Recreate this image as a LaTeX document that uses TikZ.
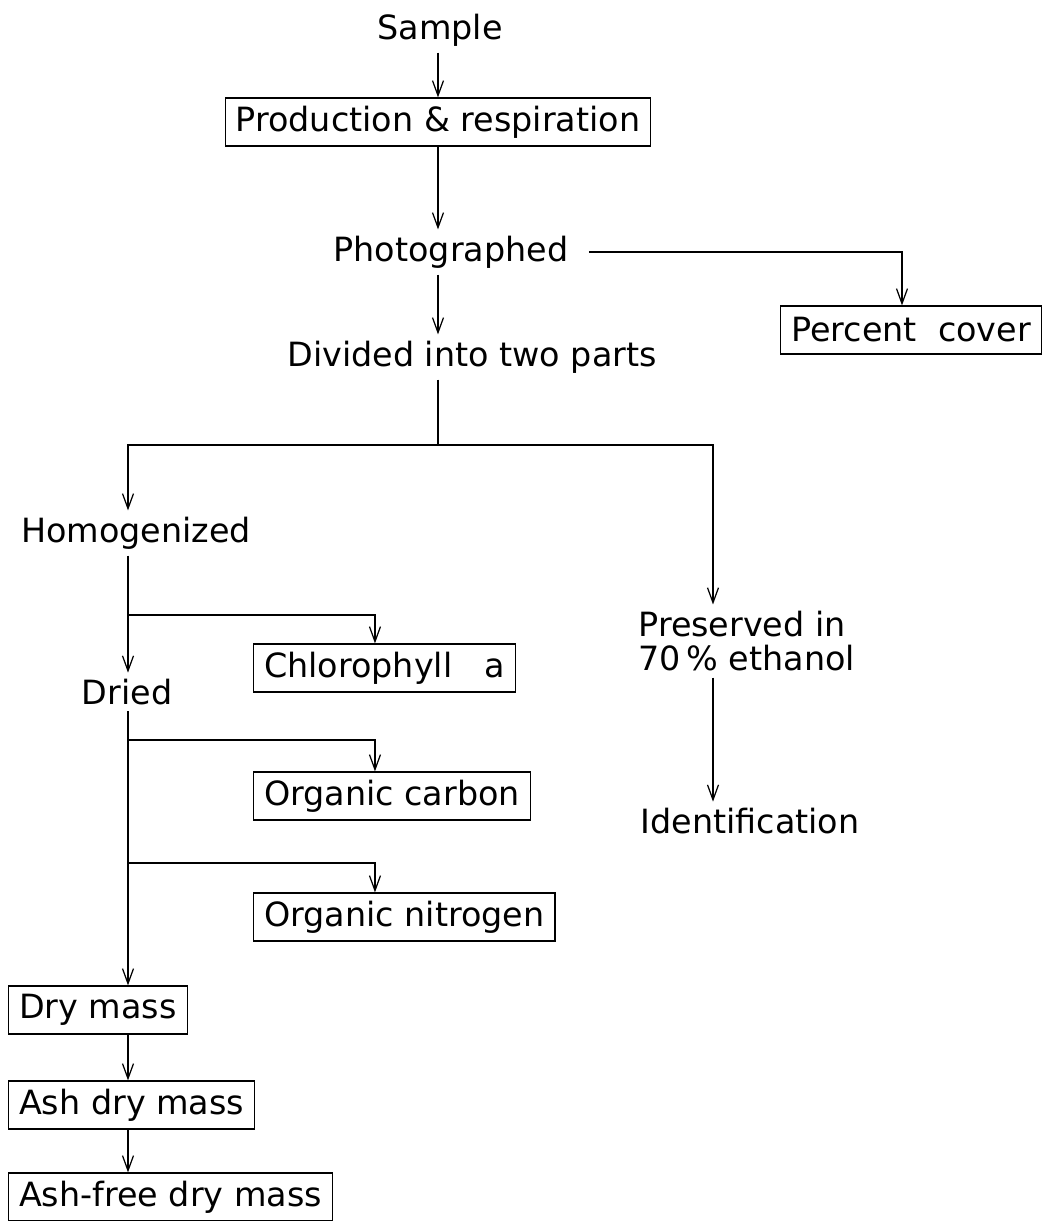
\documentclass[tikz,border=0pt]{standalone}
\usepackage{fontspec}
\setmainfont{DejaVu Sans}
\usetikzlibrary{arrows.meta}

\begin{document}
\begin{tikzpicture}[x=0.02cm, y=-0.02cm, line width=0.7pt,
    >={Straight Barb[length=3mm,width=2.2mm]},
    every node/.style={font=\fontsize{19}{19.5}\selectfont},
    boxed/.style={draw, rectangle, inner xsep=6pt, minimum height=0.96cm}]
    \useasboundingbox (0,0) rectangle (1047,1221);

    % upper chain
    \node (sample) at (440,30) {Sample};
    \node[boxed] (prod) at (438,122) {Production \& respiration};
    \node (photo) at (451,252) {Photographed};
    \node[boxed] (cover) at (911,330) {Percent~~cover};
    \node (divided) at (472,357) {Divided into two parts};

    % split points
    \coordinate (split) at (438,445);
    \coordinate (lsplit) at (128,445);
    \coordinate (rsplit) at (713,445);

    % right branch
    \node[anchor=west, align=left] (pres) at (632,641) {Preserved in\\70\,\% ethanol};
    \node (ident) at (750,821) {Identification};

    % left branch
    \node (homog) at (136,533) {Homogenized};
    \node (dried) at (127,692) {Dried};
    \node[boxed, anchor=west] (chl) at (253,668) {Chlorophyll~~~a};
    \node[boxed, anchor=west] (carbon) at (253,796) {Organic carbon};
    \node[boxed, anchor=west] (nitro) at (253,917) {Organic nitrogen};
    \coordinate (b1) at (128,615);
    \coordinate (b2) at (128,740);
    \coordinate (b3) at (128,863);

    % masses
    \node[boxed, anchor=west] (drymass) at (8,1010) {Dry~mass};
    \node[boxed, anchor=west] (ashdry) at (8,1105) {Ash dry mass};
    \node[boxed, anchor=west] (ashfree) at (8,1197) {Ash-free dry mass};

    % arrows
    \draw[->] (sample.south -| prod) -- (prod.north);
    \draw[->] (prod.south) -- (prod.south |- photo.north);
    \draw[->] ([xshift=8pt]photo.east) -| ([xshift=-0.18cm]cover.north);
    \draw[->] (photo.south -| prod) -- (divided.north -| prod);
    \draw (divided.south -| prod) -- (split);
    \draw[->] (split) -- (lsplit) -- (homog.north -| lsplit);
    \draw[->] (split) -- (rsplit) -- (pres.north -| rsplit);
    \draw[->] (pres.south -| rsplit) -- (ident.north -| rsplit);

    \draw[->] (homog.south -| lsplit) -- (dried.north -| lsplit);
    \draw[->] (b1) -| ([xshift=2.44cm]chl.north west);
    \draw[->] (dried.south -| lsplit) -- (drymass.north -| lsplit);
    \draw[->] (b2) -| ([xshift=2.44cm]carbon.north west);
    \draw[->] (b3) -| ([xshift=2.44cm]nitro.north west);
    \draw[->] (drymass.south -| lsplit) -- (ashdry.north -| lsplit);
    \draw[->] (ashdry.south -| lsplit) -- (ashfree.north -| lsplit);
\end{tikzpicture}
\end{document}
